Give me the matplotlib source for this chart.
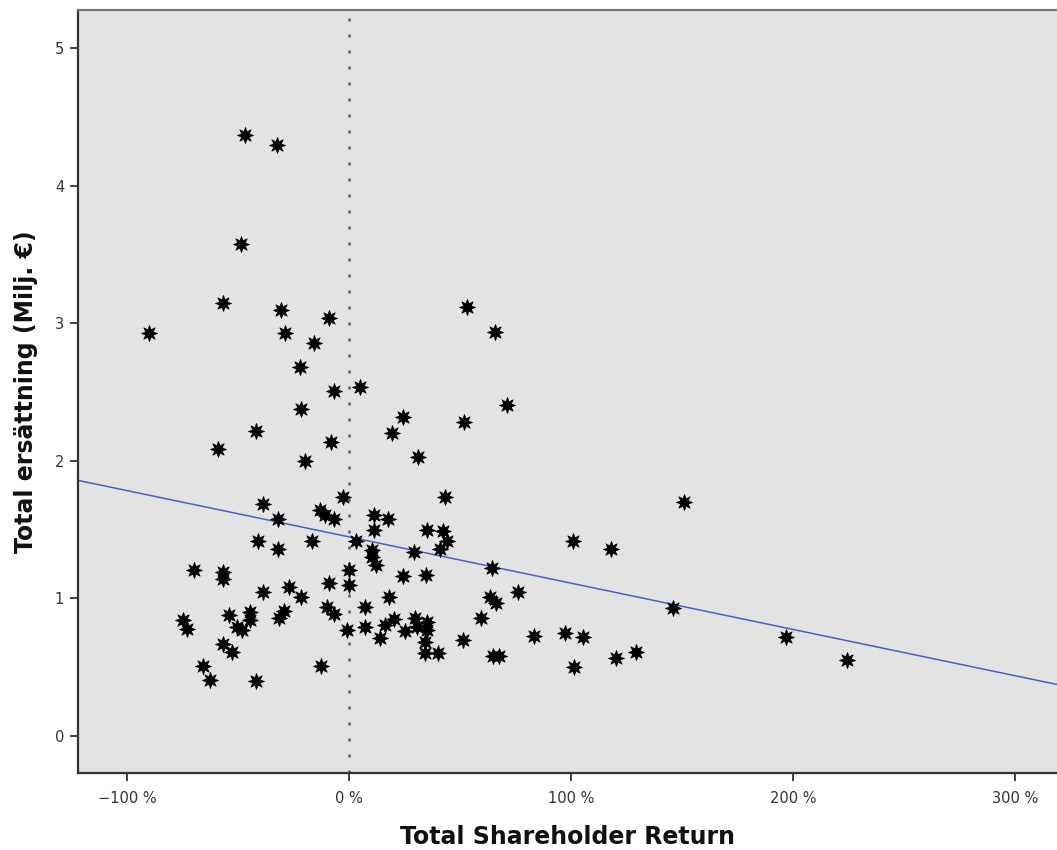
import numpy as np
import matplotlib
matplotlib.use("Agg")
import matplotlib.pyplot as plt
from matplotlib.ticker import FixedLocator, FuncFormatter

# Total shareholder return (%) and total compensation (million €)
tsr = [
    -46.9, -32.5, -48.7, -56.8, -89.8, -30.7, -28.9, -9.0, -15.8, -22.1,
    -6.8, 5.0, -21.7, -41.9, -59.1, -8.1, -19.8, 53.2, 65.9, 71.3,
    51.9, 24.4, 19.4, 31.1,
    43.3, 151.1, -38.8, -32.0, -2.7, -13.1, -10.8, -6.8, -41.0, -32.0,
    -16.7, 3.2, 11.3, 17.6, 11.3, 10.4, 10.4, 12.2, 35.2, 42.4,
    44.2, 41.0, 29.3, 64.5, 101.0, 118.2,
    -69.9, -56.8, -56.8, -38.8, -27.1, -21.7, -9.0, 0.0, 0.0, -74.9,
    -73.1, -54.1, -44.7, -44.7, -50.5, -48.3, -31.6, -29.3, -9.9, -6.8,
    -0.9, 7.2, -56.8, -52.8, -65.9, -62.7, -41.9, -12.6,
    7.2, 18.0, 24.4, 34.7, 14.0, 16.2, 20.3, 25.3, 29.8, 30.7,
    35.2, 35.2, 34.3, 34.3, 40.1, 51.4, 59.5, 63.6, 66.3, 76.2,
    65.0, 67.7, 83.4, 97.4, 105.5, 101.5, 120.4, 129.5, 146.1, 197.1,
    224.2,
]
compensation = [
    4.37, 4.30, 3.58, 3.15, 2.93, 3.10, 2.93, 3.04, 2.86, 2.68,
    2.51, 2.54, 2.38, 2.22, 2.09, 2.14, 2.00, 3.12, 2.94, 2.41,
    2.28, 2.32, 2.20, 2.03,
    1.74, 1.70, 1.69, 1.58, 1.74, 1.64, 1.61, 1.58, 1.42, 1.36,
    1.42, 1.42, 1.61, 1.58, 1.50, 1.35, 1.30, 1.24, 1.50, 1.49,
    1.42, 1.36, 1.34, 1.22, 1.42, 1.36,
    1.21, 1.19, 1.14, 1.05, 1.08, 1.01, 1.11, 1.21, 1.10, 0.84,
    0.78, 0.88, 0.90, 0.84, 0.79, 0.77, 0.86, 0.91, 0.94, 0.89,
    0.77, 0.79, 0.67, 0.61, 0.51, 0.41, 0.40, 0.51,
    0.94, 1.01, 1.16, 1.17, 0.71, 0.81, 0.85, 0.76, 0.86, 0.79,
    0.83, 0.77, 0.68, 0.60, 0.60, 0.70, 0.86, 1.01, 0.97, 1.05,
    0.58, 0.58, 0.73, 0.75, 0.72, 0.50, 0.57, 0.61, 0.93, 0.72,
    0.55,
]
x_ticks = [-100, 0, 100, 200, 300]
y_ticks = [0, 1, 2, 3, 4, 5]

x = np.array(tsr)
y = np.array(compensation)

fig = plt.figure(figsize=(10.57, 8.5), dpi=100)
ax = fig.add_axes([78 / 1057, 1 - 773 / 850, 1 - 78 / 1057, (773 - 10) / 850])
ax.set_facecolor("#e3e3e3")

ax.set_xlim(-122, 319)
ax.set_ylim(-0.27, 5.28)

# reference line at zero return
ax.axvline(0, color="#5c5c5c", lw=1.8, linestyle=(0, (1.2, 5.2)), zorder=1)

# least-squares fit across the full axis width
slope, intercept = np.polyfit(x, y, 1)
xs = np.array(ax.get_xlim())
ax.plot(xs, intercept + slope * xs, color="#4a5fc4", lw=1.1, zorder=2)

ax.scatter(x, y, marker=(8, 1, 0), s=135, color="black", linewidths=0.5,
           edgecolors="black", zorder=3)

ax.xaxis.set_major_locator(FixedLocator(x_ticks))
ax.yaxis.set_major_locator(FixedLocator(y_ticks))
ax.xaxis.set_major_formatter(FuncFormatter(
    lambda v, p: ("\u2212" if v < 0 else "") + f"{abs(int(v))} %"))
ax.yaxis.set_major_formatter(FuncFormatter(lambda v, p: f"{int(v)}"))
ax.tick_params(axis="both", direction="out", length=6, width=1.3,
               color="#333333", labelcolor="#333333", labelsize=10.5)
ax.tick_params(axis="x", pad=7)
ax.tick_params(axis="y", pad=4)

for side in ("left", "bottom"):
    ax.spines[side].set_color("#333333")
    ax.spines[side].set_linewidth(1.6)
ax.spines["top"].set_color("#777777")
ax.spines["top"].set_linewidth(1.6)
ax.spines["right"].set_visible(False)

ax.set_xlabel("Total Shareholder Return", fontsize=17, fontweight="bold",
              color="#111111", labelpad=14)
ax.set_ylabel("Total ersättning (Milj. €)", fontsize=17, fontweight="bold",
              color="#111111", labelpad=12)

fig.savefig("out.png", dpi=100)
